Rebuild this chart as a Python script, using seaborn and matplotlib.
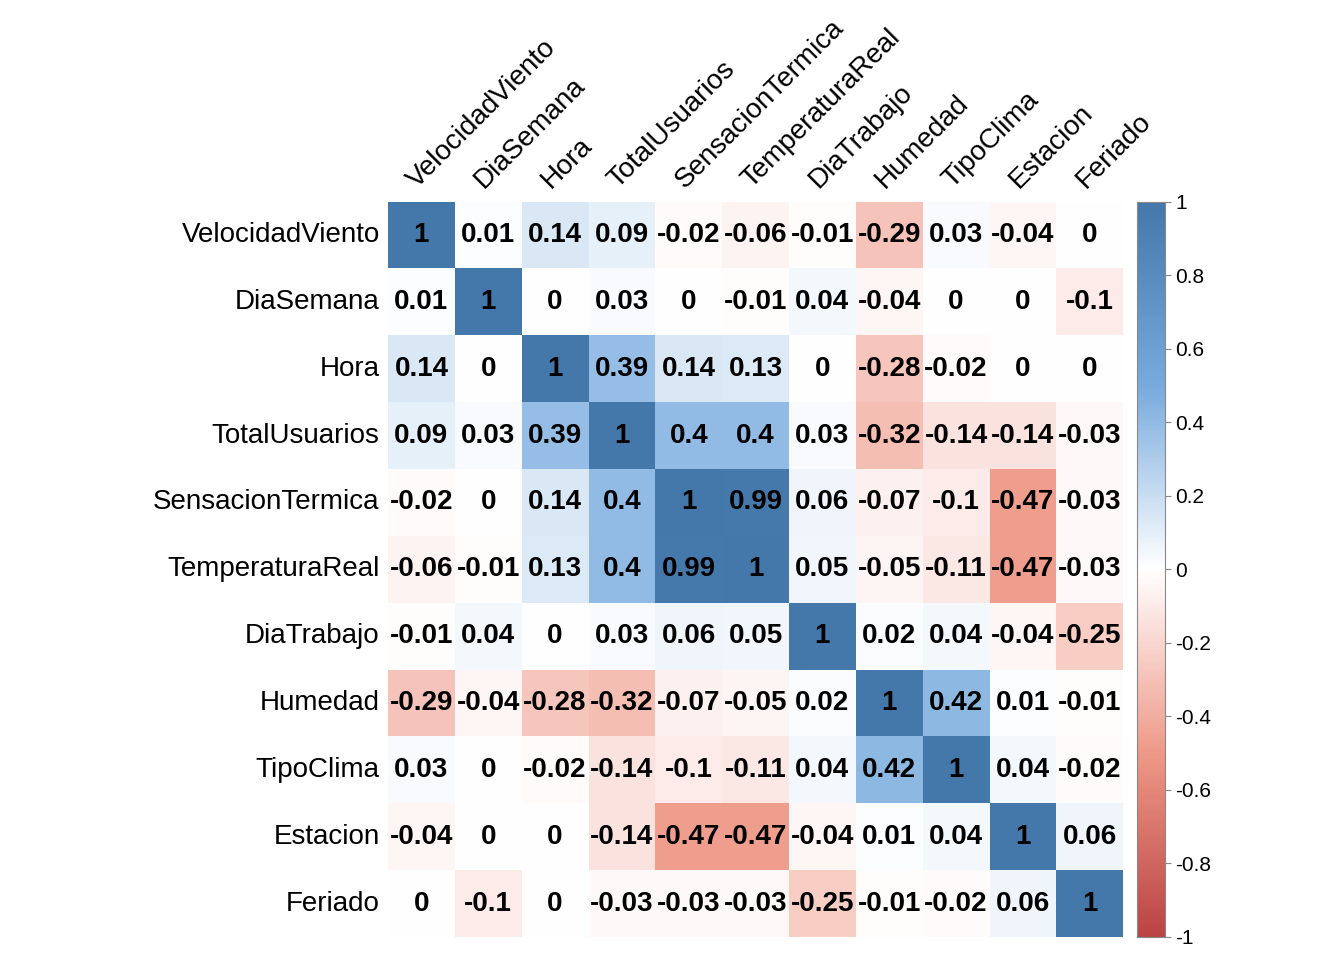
import numpy as np
import pandas as pd
import matplotlib
matplotlib.use('Agg')
import matplotlib.pyplot as plt
from matplotlib.colors import LinearSegmentedColormap
import seaborn as sns

# ── Data ─────────────────────────────────────────────
labels = ['VelocidadViento', 'DiaSemana', 'Hora', 'TotalUsuarios', 'SensacionTermica',
          'TemperaturaReal', 'DiaTrabajo', 'Humedad', 'TipoClima', 'Estacion', 'Feriado']
corr = [
    [1, 0.01, 0.14, 0.09, -0.02, -0.06, -0.01, -0.29, 0.03, -0.04, 0],
    [0.01, 1, 0, 0.03, 0, -0.01, 0.04, -0.04, 0, 0, -0.1],
    [0.14, 0, 1, 0.39, 0.14, 0.13, 0, -0.28, -0.02, 0, 0],
    [0.09, 0.03, 0.39, 1, 0.4, 0.4, 0.03, -0.32, -0.14, -0.14, -0.03],
    [-0.02, 0, 0.14, 0.4, 1, 0.99, 0.06, -0.07, -0.1, -0.47, -0.03],
    [-0.06, -0.01, 0.13, 0.4, 0.99, 1, 0.05, -0.05, -0.11, -0.47, -0.03],
    [-0.01, 0.04, 0, 0.03, 0.06, 0.05, 1, 0.02, 0.04, -0.04, -0.25],
    [-0.29, -0.04, -0.28, -0.32, -0.07, -0.05, 0.02, 1, 0.42, 0.01, -0.01],
    [0.03, 0, -0.02, -0.14, -0.1, -0.11, 0.04, 0.42, 1, 0.04, -0.02],
    [-0.04, 0, 0, -0.14, -0.47, -0.47, -0.04, 0.01, 0.04, 1, 0.06],
    [0, -0.1, 0, -0.03, -0.03, -0.03, -0.25, -0.01, -0.02, 0.06, 1],
]
cbar_ticks = [-1, -0.8, -0.6, -0.4, -0.2, 0, 0.2, 0.4, 0.6, 0.8, 1]

df = pd.DataFrame(corr, index=labels, columns=labels)
annot = df.map(lambda v: f'{v:g}')

# ── Plot ─────────────────────────────────────────────
sns.set_style('white')
plt.rcParams['font.family'] = ['Liberation Sans', 'DejaVu Sans']
cmap = LinearSegmentedColormap.from_list(
    'cp', ['#BB4444', '#EE9988', '#FFFFFF', '#77AADD', '#4477AA'])

fig = plt.figure(figsize=(13.44, 9.6), dpi=100)
ax = fig.add_axes([0.2887, 0.024, 0.547, 0.766])
cax = fig.add_axes([0.846, 0.024, 0.0208, 0.766])

sns.heatmap(df, ax=ax, cbar_ax=cax, cmap=cmap, vmin=-1, vmax=1,
            annot=annot, fmt='', annot_kws={'fontsize': 20, 'fontweight': 'bold', 'color': 'black'})

ax.xaxis.tick_top()
ax.set_xticklabels(labels, rotation=45, ha='left', va='bottom', fontsize=20,
                   rotation_mode='anchor', color='black')
ax.set_yticklabels(labels, rotation=0, fontsize=20, color='black')
ax.tick_params(length=0, pad=6)

cax.set_yticks(cbar_ticks)
cax.set_yticklabels([f'{v:g}' for v in cbar_ticks], fontsize=15, color='black')
cax.tick_params(length=4, color='#888888')
for s in cax.spines.values():
    s.set_visible(True)
    s.set_color('#888888')

fig.savefig('out.png', dpi=100)
